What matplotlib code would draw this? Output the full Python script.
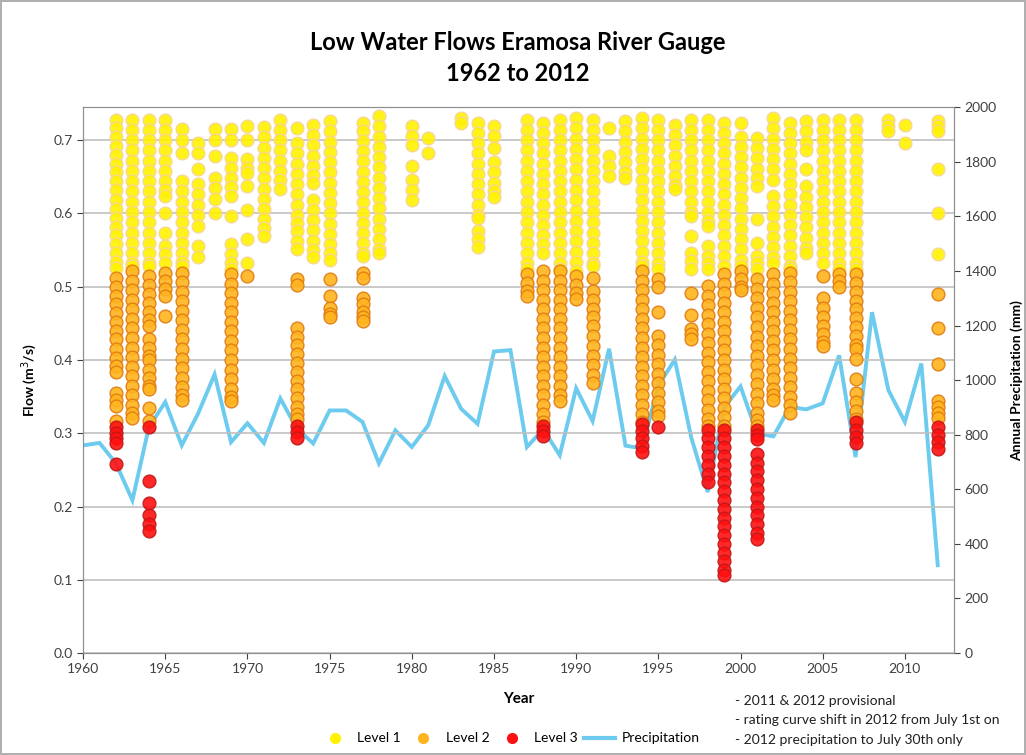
import numpy as np
import matplotlib.pyplot as plt
from matplotlib.lines import Line2D

plt.rcParams['font.family'] = ['Lato', 'DejaVu Sans']

# annual precipitation (mm), secondary axis
precip_years = list(range(1960, 2013))
precip = [761, 770, 695, 560, 827, 920, 761, 878, 1021, 773,
          842, 770, 933, 823, 768, 889, 889, 847, 695, 816,
          755, 835, 1015, 895, 840, 1105, 1110, 755, 820, 725,
          970, 850, 1115, 760, 750, 980, 1075, 790, 590, 900,
          977, 805, 794, 902, 893, 915, 1091, 718, 1249, 963,
          847, 1061, 322]

# low flow readings (m3/s) by year, Level 1
level1 = {
    1962: [0.728, 0.716, 0.704, 0.692, 0.68, 0.668, 0.656, 0.644, 0.632, 0.618, 0.606, 0.594, 0.582, 0.57, 0.558, 0.546, 0.534, 0.526],
    1963: [0.728, 0.714, 0.70, 0.686, 0.672, 0.658, 0.644, 0.63, 0.616, 0.602, 0.588, 0.574, 0.56, 0.546, 0.532, 0.528],
    1964: [0.728, 0.714, 0.70, 0.686, 0.672, 0.658, 0.644, 0.63, 0.616, 0.602, 0.588, 0.574, 0.56, 0.546, 0.532, 0.528],
    1965: [0.728, 0.714, 0.70, 0.686, 0.672, 0.658, 0.644, 0.632, 0.624, 0.60, 0.574, 0.555, 0.544, 0.533],
    1966: [0.715, 0.70, 0.683, 0.644, 0.63, 0.616, 0.602, 0.588, 0.574, 0.56, 0.546, 0.534, 0.528],
    1967: [0.696, 0.683, 0.66, 0.64, 0.626, 0.612, 0.598, 0.583, 0.555, 0.54],
    1968: [0.715, 0.70, 0.678, 0.649, 0.635, 0.62, 0.60],
    1969: [0.715, 0.70, 0.676, 0.662, 0.648, 0.636, 0.624, 0.596, 0.558, 0.545, 0.532, 0.524],
    1970: [0.72, 0.70, 0.674, 0.662, 0.655, 0.637, 0.605, 0.565, 0.533],
    1971: [0.718, 0.704, 0.69, 0.676, 0.662, 0.648, 0.634, 0.62, 0.606, 0.592, 0.58, 0.569],
    1972: [0.728, 0.714, 0.70, 0.686, 0.672, 0.658, 0.645, 0.633],
    1973: [0.717, 0.696, 0.682, 0.668, 0.654, 0.64, 0.626, 0.612, 0.598, 0.587, 0.576, 0.563, 0.551],
    1974: [0.721, 0.707, 0.693, 0.679, 0.665, 0.652, 0.642, 0.619, 0.605, 0.591, 0.577, 0.563, 0.55, 0.54],
    1975: [0.726, 0.712, 0.698, 0.684, 0.67, 0.656, 0.642, 0.628, 0.614, 0.60, 0.586, 0.572, 0.558, 0.546, 0.537],
    1977: [0.724, 0.712, 0.699, 0.685, 0.671, 0.657, 0.643, 0.629, 0.615, 0.601, 0.587, 0.573, 0.559, 0.546, 0.542],
    1978: [0.733, 0.719, 0.705, 0.691, 0.677, 0.663, 0.649, 0.635, 0.621, 0.607, 0.593, 0.579, 0.565, 0.552, 0.546],
    1980: [0.719, 0.706, 0.694, 0.665, 0.646, 0.632, 0.619],
    1981: [0.703, 0.683],
    1983: [0.73, 0.724],
    1984: [0.724, 0.71, 0.696, 0.682, 0.668, 0.654, 0.64, 0.626, 0.612, 0.598, 0.594, 0.576, 0.565, 0.554],
    1985: [0.72, 0.706, 0.69, 0.67, 0.656, 0.642, 0.63, 0.622],
    1987: [0.728, 0.714, 0.70, 0.686, 0.672, 0.658, 0.644, 0.63, 0.616, 0.602, 0.588, 0.574, 0.56, 0.546, 0.532, 0.524],
    1988: [0.724, 0.71, 0.696, 0.682, 0.668, 0.654, 0.64, 0.626, 0.612, 0.598, 0.584, 0.57, 0.558, 0.546],
    1989: [0.728, 0.714, 0.70, 0.686, 0.672, 0.658, 0.644, 0.63, 0.616, 0.602, 0.588, 0.574, 0.56, 0.546, 0.532, 0.524],
    1990: [0.73, 0.716, 0.702, 0.688, 0.674, 0.66, 0.646, 0.632, 0.618, 0.604, 0.59, 0.576, 0.562, 0.548, 0.534, 0.522],
    1991: [0.728, 0.714, 0.70, 0.686, 0.672, 0.658, 0.644, 0.63, 0.616, 0.602, 0.588, 0.574, 0.56, 0.546, 0.532, 0.528],
    1992: [0.717, 0.678, 0.665, 0.651],
    1993: [0.726, 0.712, 0.698, 0.684, 0.67, 0.656, 0.649],
    1994: [0.73, 0.716, 0.702, 0.688, 0.674, 0.66, 0.646, 0.632, 0.618, 0.604, 0.59, 0.576, 0.562, 0.548, 0.534, 0.528],
    1995: [0.728, 0.714, 0.70, 0.686, 0.672, 0.658, 0.644, 0.63, 0.616, 0.602, 0.588, 0.574, 0.56, 0.546, 0.532, 0.524],
    1996: [0.721, 0.707, 0.693, 0.679, 0.665, 0.651, 0.639, 0.633],
    1997: [0.728, 0.714, 0.70, 0.686, 0.672, 0.658, 0.644, 0.63, 0.616, 0.602, 0.596, 0.569, 0.546, 0.535, 0.524],
    1998: [0.728, 0.714, 0.70, 0.686, 0.672, 0.658, 0.644, 0.63, 0.616, 0.602, 0.59, 0.583, 0.555, 0.542, 0.532, 0.524],
    1999: [0.724, 0.71, 0.696, 0.682, 0.668, 0.654, 0.64, 0.626, 0.612, 0.598, 0.584, 0.57, 0.556, 0.542, 0.528],
    2000: [0.724, 0.705, 0.691, 0.677, 0.663, 0.649, 0.635, 0.621, 0.607, 0.593, 0.579, 0.565, 0.551, 0.537, 0.528],
    2001: [0.703, 0.689, 0.675, 0.661, 0.648, 0.637, 0.592, 0.56, 0.542, 0.532, 0.524],
    2002: [0.73, 0.716, 0.702, 0.688, 0.674, 0.66, 0.646, 0.624, 0.61, 0.596, 0.582, 0.568, 0.554, 0.54, 0.533],
    2003: [0.724, 0.71, 0.696, 0.682, 0.668, 0.654, 0.64, 0.626, 0.612, 0.598, 0.584, 0.57, 0.556, 0.542, 0.528, 0.524],
    2004: [0.726, 0.712, 0.698, 0.687, 0.66, 0.637, 0.623, 0.609, 0.595, 0.581, 0.567, 0.553, 0.546],
    2005: [0.728, 0.714, 0.70, 0.686, 0.672, 0.658, 0.644, 0.63, 0.616, 0.602, 0.588, 0.574, 0.56, 0.546, 0.533],
    2006: [0.728, 0.714, 0.70, 0.686, 0.672, 0.658, 0.644, 0.63, 0.616, 0.602, 0.588, 0.574, 0.56, 0.546, 0.532, 0.524],
    2007: [0.728, 0.714, 0.70, 0.686, 0.672, 0.658, 0.644, 0.63, 0.616, 0.602, 0.588, 0.574, 0.56, 0.546, 0.532, 0.524],
    2009: [0.728, 0.72, 0.712],
    2010: [0.721, 0.696],
    2012: [0.726, 0.719, 0.712, 0.66, 0.601, 0.544],
}

# Level 2
level2 = {
    1962: [0.512, 0.50, 0.488, 0.476, 0.464, 0.452, 0.44, 0.428, 0.415, 0.403, 0.392, 0.383, 0.355, 0.346, 0.337, 0.317],
    1963: [0.521, 0.508, 0.495, 0.482, 0.469, 0.456, 0.443, 0.43, 0.417, 0.404, 0.391, 0.378, 0.365, 0.352, 0.339, 0.328, 0.321],
    1964: [0.514, 0.502, 0.49, 0.478, 0.466, 0.454, 0.446, 0.428, 0.416, 0.405, 0.40, 0.387, 0.375, 0.364, 0.36, 0.335, 0.317],
    1965: [0.519, 0.508, 0.497, 0.487, 0.46],
    1966: [0.519, 0.506, 0.493, 0.48, 0.467, 0.454, 0.441, 0.428, 0.415, 0.402, 0.389, 0.376, 0.363, 0.352, 0.346],
    1969: [0.517, 0.504, 0.491, 0.478, 0.465, 0.452, 0.439, 0.426, 0.413, 0.40, 0.387, 0.374, 0.361, 0.35, 0.344],
    1970: [0.514],
    1973: [0.51, 0.503, 0.444, 0.432, 0.42, 0.408, 0.396, 0.384, 0.372, 0.36, 0.348, 0.336, 0.326, 0.319],
    1975: [0.51, 0.487, 0.471, 0.463, 0.458],
    1977: [0.519, 0.512, 0.485, 0.476, 0.465, 0.458, 0.453],
    1987: [0.517, 0.505, 0.494, 0.487],
    1988: [0.521, 0.508, 0.495, 0.482, 0.469, 0.456, 0.443, 0.43, 0.417, 0.404, 0.391, 0.378, 0.365, 0.352, 0.339, 0.326, 0.315],
    1989: [0.521, 0.508, 0.495, 0.482, 0.469, 0.456, 0.443, 0.43, 0.417, 0.404, 0.391, 0.378, 0.365, 0.352, 0.344],
    1990: [0.514, 0.503, 0.492, 0.483],
    1991: [0.512, 0.494, 0.482, 0.47, 0.458, 0.446, 0.433, 0.419, 0.406, 0.393, 0.38, 0.369],
    1994: [0.521, 0.508, 0.495, 0.482, 0.469, 0.456, 0.443, 0.43, 0.417, 0.404, 0.391, 0.378, 0.365, 0.352, 0.339, 0.326, 0.315],
    1995: [0.51, 0.499, 0.465, 0.433, 0.42, 0.407, 0.394, 0.381, 0.368, 0.355, 0.342, 0.33, 0.324],
    1997: [0.492, 0.462, 0.442, 0.435, 0.428],
    1998: [0.501, 0.488, 0.475, 0.462, 0.449, 0.436, 0.423, 0.41, 0.397, 0.384, 0.371, 0.358, 0.345, 0.332, 0.32, 0.31],
    1999: [0.517, 0.504, 0.491, 0.478, 0.465, 0.452, 0.439, 0.426, 0.413, 0.40, 0.387, 0.374, 0.361, 0.348, 0.335, 0.322, 0.31],
    2000: [0.521, 0.51, 0.50, 0.496],
    2001: [0.51, 0.497, 0.484, 0.471, 0.458, 0.445, 0.432, 0.419, 0.406, 0.393, 0.38, 0.367, 0.354, 0.341, 0.328, 0.318, 0.31],
    2002: [0.517, 0.504, 0.491, 0.478, 0.465, 0.452, 0.439, 0.426, 0.413, 0.40, 0.387, 0.374, 0.361, 0.352, 0.346],
    2003: [0.519, 0.506, 0.493, 0.48, 0.467, 0.454, 0.441, 0.428, 0.415, 0.402, 0.389, 0.376, 0.363, 0.35, 0.338, 0.328],
    2005: [0.514, 0.485, 0.471, 0.459, 0.447, 0.435, 0.425, 0.419],
    2006: [0.517, 0.508, 0.499],
    2007: [0.517, 0.505, 0.493, 0.481, 0.469, 0.457, 0.445, 0.433, 0.421, 0.415, 0.401, 0.374, 0.355, 0.343, 0.331, 0.319],
    2012: [0.49, 0.444, 0.394, 0.344, 0.336, 0.328, 0.321],
}

# Level 3
level3 = {
    1962: [0.308, 0.301, 0.294, 0.287, 0.258],
    1964: [0.308, 0.235, 0.205, 0.189, 0.176, 0.167],
    1973: [0.31, 0.302, 0.294],
    1988: [0.31, 0.303, 0.296],
    1994: [0.313, 0.303, 0.293, 0.283, 0.274],
    1995: [0.308],
    1998: [0.305, 0.293, 0.281, 0.269, 0.257, 0.245, 0.233],
    1999: [0.305, 0.293, 0.281, 0.269, 0.257, 0.245, 0.233, 0.221, 0.209, 0.197, 0.185, 0.173, 0.161, 0.149, 0.137, 0.125, 0.113, 0.107],
    2001: [0.305, 0.298, 0.292, 0.272, 0.26, 0.248, 0.236, 0.224, 0.212, 0.20, 0.188, 0.176, 0.164, 0.156],
    2007: [0.315, 0.305, 0.295, 0.287],
    2012: [0.308, 0.298, 0.288, 0.279],
}

notes = ['- 2011 & 2012 provisional',
         '- rating curve shift in 2012 from July 1st on',
         '- 2012 precipitation to July 30th only']


def flatten(d):
    xs, ys = [], []
    for yr, vals in d.items():
        xs += [yr] * len(vals)
        ys += vals
    return xs, ys


fig = plt.figure(figsize=(10.26, 7.55), dpi=100)
fig.patch.set_edgecolor('#b0b0b0')
fig.patch.set_linewidth(1.5)
ax = fig.add_axes([0.081, 0.135, 0.849, 0.723])
ax2 = ax.twinx()

ax2.plot(precip_years, precip, color='#6ccbee', lw=2.8, solid_joinstyle='miter')
ax2.set_ylim(0, 2000)
ax2.set_yticks(range(0, 2001, 200))

styles = [(level1, '#fff200', '#f6d49a'),
          (level2, '#ffb41e', '#e07a10'),
          (level3, '#ff1010', '#c01818')]
for d, fc, ec in styles:
    xs, ys = flatten(d)
    ax.scatter(xs, ys, s=85, c=fc, edgecolors=ec, linewidths=1.0, alpha=0.9, zorder=3)

ax.set_zorder(ax2.get_zorder() + 1)
ax.patch.set_visible(False)

ax.set_xlim(1960, 2013)
ax.set_ylim(0, 0.745)
ax.set_xticks(range(1960, 2011, 5))
ax.set_yticks(np.arange(0, 0.71, 0.1))
ax.set_yticklabels([f'{v:.1f}' for v in np.arange(0, 0.71, 0.1)])
ax.grid(axis='y', color='#c0c0c0', lw=1.2)
ax.set_axisbelow(True)

for a in (ax, ax2):
    for s in a.spines.values():
        s.set_color('#909090')
    a.tick_params(colors='#404040', labelsize=10, direction='out', length=4)

ax.set_xlabel('Year', fontsize=11, fontweight='bold', labelpad=12)
ax.set_ylabel('Flow (m$^3$/s)', fontsize=10, fontweight='bold', labelpad=10)
ax2.set_ylabel('Annual Precipitation (mm)', fontsize=10, fontweight='bold', labelpad=10)

fig.text(0.505, 0.944, 'Low Water Flows Eramosa River Gauge', ha='center', va='center',
         fontsize=17, fontweight='bold')
fig.text(0.505, 0.903, '1962 to 2012', ha='center', va='center', fontsize=17, fontweight='bold')

handles = [Line2D([], [], ls='none', marker='o', ms=7, mfc=fc, mec=fc) for _, fc, _ in styles]
handles.append(Line2D([], [], color='#6ccbee', lw=3))
fig.legend(handles, ['Level 1', 'Level 2', 'Level 3', 'Precipitation'], loc='center',
           bbox_to_anchor=(0.497, 0.022), ncol=4, frameon=False, fontsize=10,
           handlelength=2.2, handletextpad=0.5, columnspacing=0.5)

for i, t in enumerate(notes):
    fig.text(0.716, 0.072 - i * 0.026, t, fontsize=10, va='center', color='#202020')

fig.savefig('out.png', dpi=100)
